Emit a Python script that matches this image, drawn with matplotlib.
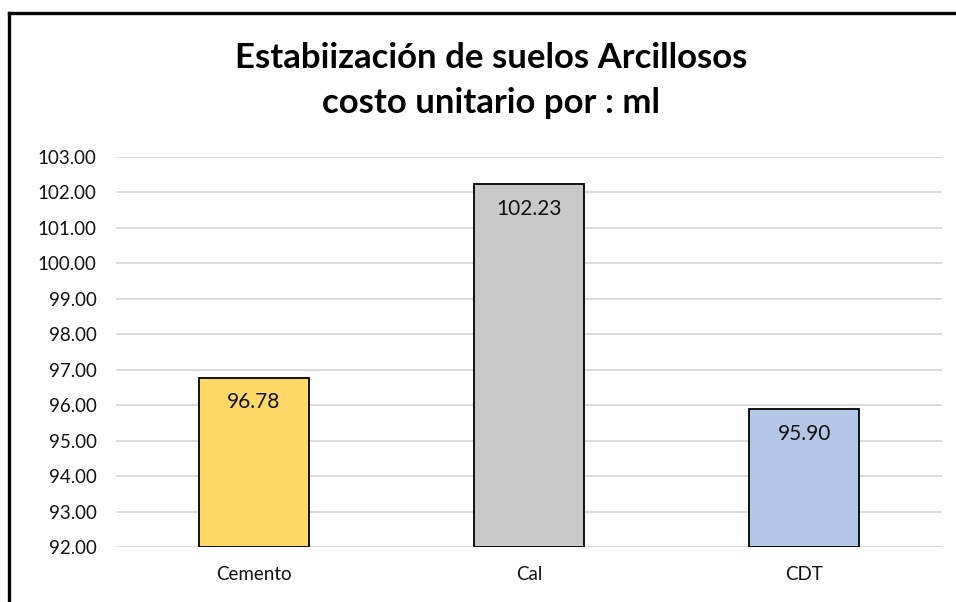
import matplotlib.pyplot as plt
from matplotlib.lines import Line2D

categories = ["Cemento", "Cal", "CDT"]
costs = [96.78, 102.23, 95.90]
bar_colors = ["#FFD966", "#C9C9C9", "#B4C7E7"]
y_ticks = [92, 93, 94, 95, 96, 97, 98, 99, 100, 101, 102, 103]

plt.rcParams['font.family'] = ['Lato', 'DejaVu Sans']

W, H = 956, 602
fig = plt.figure(figsize=(W / 100, H / 100), dpi=100)
ax = fig.add_axes([116 / W, 1 - 547 / H, (942 - 116) / W, (547 - 157) / H])

x = range(len(categories))
bars = ax.bar(x, [c - y_ticks[0] for c in costs], bottom=y_ticks[0], width=0.4,
              color=bar_colors, edgecolor="black", linewidth=1.3, zorder=3)

for rect, c in zip(bars, costs):
    ax.text(rect.get_x() + rect.get_width() / 2, c - 0.42, f"{c:.2f}",
            ha="center", va="top", fontsize=15, color="#111111", zorder=4)

ax.set_xlim(-0.5, len(categories) - 0.5)
ax.set_ylim(y_ticks[0], y_ticks[-1])
ax.set_yticks(y_ticks)
ax.set_yticklabels([f"{t:.2f}" for t in y_ticks])
ax.set_xticks(list(x))
ax.set_xticklabels(categories)
ax.tick_params(axis="both", length=0, labelsize=13.5, colors="#111111")
ax.tick_params(axis="y", pad=14)
ax.tick_params(axis="x", pad=14)
ax.yaxis.grid(True, color="#D9D9D9", linewidth=1.3, zorder=0)
for s in ax.spines.values():
    s.set_visible(False)

fig.text(491 / W, 1 - 58 / H, "Estabiización de suelos Arcillosos",
         ha="center", va="center", fontsize=25, fontweight="bold")
fig.text(491 / W, 1 - 103 / H, "costo unitario por : ml",
         ha="center", va="center", fontsize=25, fontweight="bold")

# outer chart frame (left and top edges)
fig.add_artist(Line2D([9 / W, 9 / W], [0, 1 - 13 / H], color="black", linewidth=2.4))
fig.add_artist(Line2D([9 / W, 1], [1 - 13 / H, 1 - 13 / H], color="black", linewidth=2.4))

fig.savefig("out.png", dpi=100)
